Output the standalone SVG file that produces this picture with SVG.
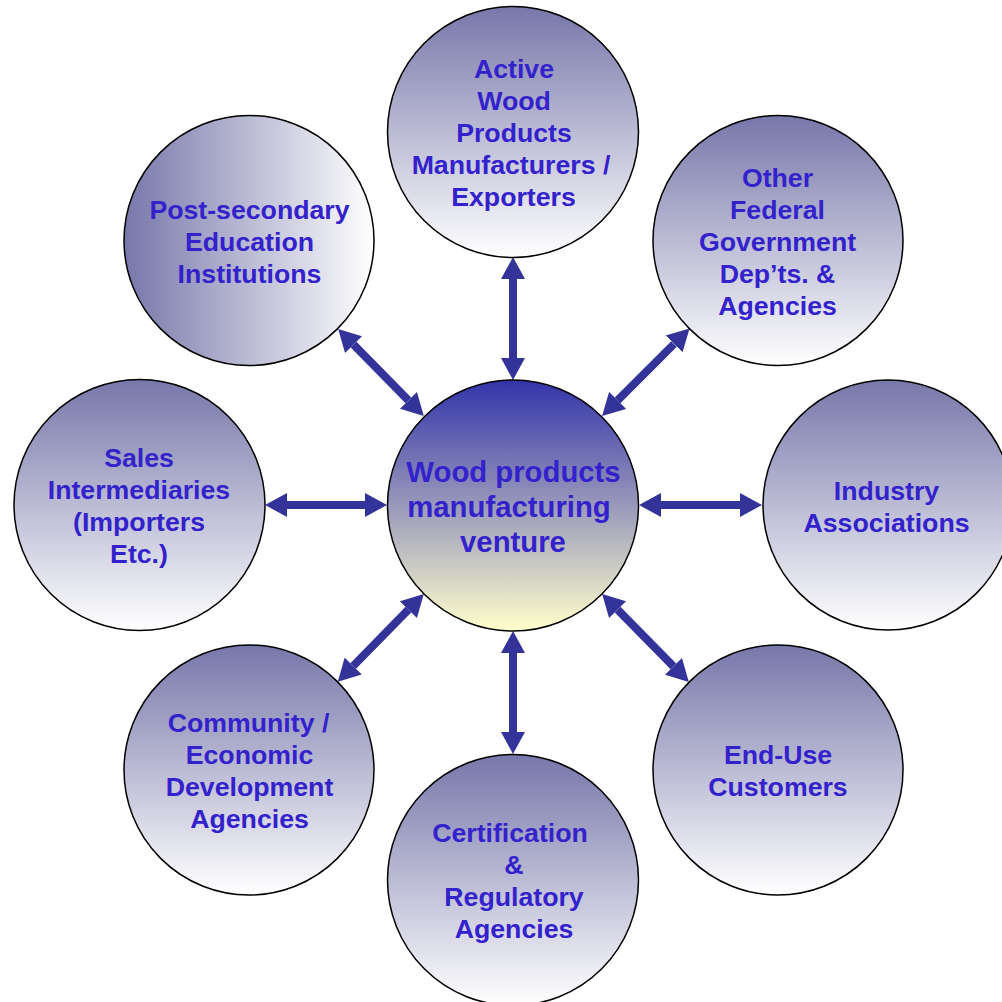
<svg xmlns="http://www.w3.org/2000/svg" width="1002" height="1002" viewBox="0 0 1002 1002">
<defs>
<linearGradient id="gv" x1="0" y1="0" x2="0" y2="1">
<stop offset="0" stop-color="#7777AA"/>
<stop offset="1" stop-color="#FFFFFF"/>
</linearGradient>
<linearGradient id="gh" x1="0" y1="0" x2="1" y2="0">
<stop offset="0" stop-color="#7777AA"/>
<stop offset="1" stop-color="#FFFFFF"/>
</linearGradient>
<linearGradient id="gc" x1="0" y1="0" x2="0" y2="1">
<stop offset="0" stop-color="#3333AA"/>
<stop offset="1" stop-color="#FFFFCC"/>
</linearGradient>
<marker id="ah" markerUnits="userSpaceOnUse" markerWidth="22" markerHeight="24" refX="0" refY="12" orient="auto-start-reverse" viewBox="0 0 22 24">
<path d="M0,0 L22,12 L0,24 z" fill="#333399"/>
</marker>
</defs>
<style>
.c{stroke:#000;stroke-width:1.5}
.o{fill:url(#gv)}
.t{font-family:"Liberation Sans",Arial,sans-serif;font-weight:bold;font-size:26.7px;fill:#3322CC;text-anchor:middle}
.tc{font-size:29.3px}
.a{stroke:#333399;stroke-width:8;fill:none;marker-start:url(#ah);marker-end:url(#ah)}
</style>
<rect width="1002" height="1002" fill="#fff"/>
<g id="connectors">
<line class="a" x1="513" y1="279" x2="513" y2="358"/>
<line class="a" x1="513" y1="653" x2="513" y2="732"/>
<line class="a" x1="287" y1="505" x2="365" y2="505"/>
<line class="a" x1="661" y1="505" x2="740" y2="505"/>
<line class="a" x1="353.6" y1="344.6" x2="408.4" y2="400.4"/>
<line class="a" x1="674" y1="344" x2="617.6" y2="400.4"/>
<line class="a" x1="408.4" y1="609.6" x2="353.2" y2="666"/>
<line class="a" x1="617.6" y1="609.6" x2="673.4" y2="666.4"/>
</g>
<g id="n-center">
<circle class="c" cx="513" cy="505.5" r="125.5" fill="url(#gc)"/>
<text class="t tc" x="513.5" y="482">Wood products</text>
<text class="t tc" x="509" y="517">manufacturing</text>
<text class="t tc" x="513" y="552">venture</text>
</g>
<g id="n-top">
<circle class="c o" cx="513" cy="132" r="125.5"/>
<text class="t" x="514" y="78">Active</text>
<text class="t" x="514" y="110">Wood</text>
<text class="t" x="514" y="142">Products</text>
<text class="t" x="511" y="174">Manufacturers /</text>
<text class="t" x="513.5" y="206">Exporters</text>
</g>
<g id="n-topright">
<circle class="c o" cx="778" cy="240.5" r="125"/>
<text class="t" x="777.5" y="187">Other</text>
<text class="t" x="777.5" y="219">Federal</text>
<text class="t" x="777.5" y="251">Government</text>
<text class="t" x="777.5" y="283">Dep’ts. &amp;</text>
<text class="t" x="777.5" y="315">Agencies</text>
</g>
<g id="n-right">
<circle class="c o" cx="888" cy="505" r="125"/>
<text class="t" x="886.5" y="500">Industry</text>
<text class="t" x="886.5" y="532">Associations</text>
</g>
<g id="n-bottomright">
<circle class="c o" cx="778" cy="770" r="125"/>
<text class="t" x="778" y="764">End-Use</text>
<text class="t" x="778" y="796">Customers</text>
</g>
<g id="n-bottom">
<circle class="c o" cx="513" cy="880" r="125.5"/>
<text class="t" x="510" y="842">Certification</text>
<text class="t" x="514" y="874">&amp;</text>
<text class="t" x="514" y="906">Regulatory</text>
<text class="t" x="514" y="938">Agencies</text>
</g>
<g id="n-bottomleft">
<circle class="c o" cx="249" cy="770" r="125"/>
<text class="t" x="248.5" y="732">Community /</text>
<text class="t" x="249.5" y="764">Economic</text>
<text class="t" x="249.5" y="796">Development</text>
<text class="t" x="249.5" y="828">Agencies</text>
</g>
<g id="n-left">
<circle class="c o" cx="139.5" cy="505" r="125.5"/>
<text class="t" x="139" y="467">Sales</text>
<text class="t" x="139" y="499">Intermediaries</text>
<text class="t" x="139" y="531">(Importers</text>
<text class="t" x="139" y="563">Etc.)</text>
</g>
<g id="n-topleft">
<circle class="c" cx="249" cy="240.5" r="125" fill="url(#gh)"/>
<text class="t" x="249.5" y="219">Post-secondary</text>
<text class="t" x="249.5" y="251">Education</text>
<text class="t" x="249.5" y="283">Institutions</text>
</g>
</svg>
